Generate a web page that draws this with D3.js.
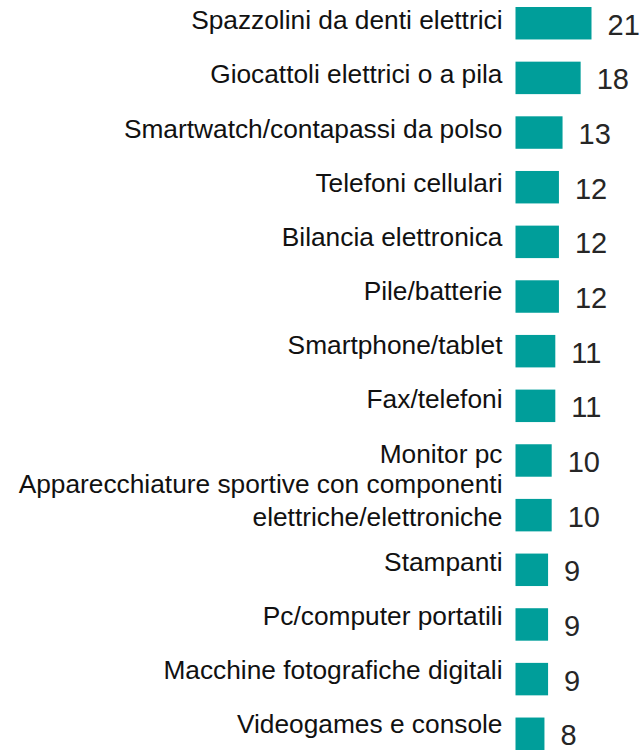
<!DOCTYPE html>
<html>
<head>
<meta charset="utf-8">
<script src="https://cdn.jsdelivr.net/npm/d3@7"></script>
<style>
  body { margin: 0; background: #fff; }
  text { font-family: "Liberation Sans", Arial, sans-serif; }
</style>
</head>
<body>
<div id="chart"></div>
<script>
// data
var categories = [
  "Spazzolini da denti elettrici",
  "Giocattoli elettrici o a pila",
  "Smartwatch/contapassi da polso",
  "Telefoni cellulari",
  "Bilancia elettronica",
  "Pile/batterie",
  "Smartphone/tablet",
  "Fax/telefoni",
  "Monitor pc",
  "Apparecchiature sportive con componenti\nelettriche/elettroniche",
  "Stampanti",
  "Pc/computer portatili",
  "Macchine fotografiche digitali",
  "Videogames e console"
];
var values = [21, 18, 13, 12, 12, 12, 11, 11, 10, 10, 9, 9, 9, 8];

var width = 643, height = 751;
var barColor = "#009e9a";

var svg = d3.select("#chart")
  .append("svg")
  .attr("width", width)
  .attr("height", height);

var rows = categories.map(function(c, i) { return {cat: c, value: values[i]}; });

// scales
var x = d3.scaleLinear()
  .domain([0, 21])
  .range([515.5, 591.5]);

var y = d3.scaleBand()
  .domain(categories)
  .range([7, 750])
  .paddingInner(0.406)
  .paddingOuter(0);

// label baselines sit a bit above the bar centres
var yLabel = d3.scalePoint()
  .domain(categories)
  .range([29.3, 733.3]);

// bars
svg.selectAll(".bar")
  .data(rows)
  .enter()
  .append("rect")
  .attr("class", "bar")
  .attr("x", x(0))
  .attr("y", function(d) { return y(d.cat); })
  .attr("width", function(d) { return x(d.value) - x(0); })
  .attr("height", y.bandwidth())
  .attr("fill", barColor);

// value labels
svg.selectAll(".val")
  .data(rows)
  .enter()
  .append("text")
  .attr("class", "val")
  .attr("x", function(d) { return x(d.value) + 16; })
  .attr("y", function(d) { return y(d.cat) + y.bandwidth() / 2 + 1; })
  .attr("dy", "0.36em")
  .attr("font-size", 29)
  .attr("fill", "#262626")
  .text(function(d) { return d.value; });

// category labels
var lineH = 33;
var labels = svg.selectAll(".lab")
  .data(rows)
  .enter()
  .append("text")
  .attr("class", "lab")
  .attr("text-anchor", "end")
  .attr("font-size", 26.3)
  .attr("fill", "#111");

labels.each(function(d) {
  var lines = d.cat.split("\n");
  var n = lines.length;
  var base = yLabel(d.cat);
  var shift = n > 1 ? -7 : 0;
  d3.select(this).selectAll("tspan")
    .data(lines)
    .enter()
    .append("tspan")
    .attr("x", x(0) - 13)
    .attr("y", function(l, i) { return base + (i - (n - 1) / 2) * lineH + shift; })
    .text(function(l) { return l; });
});
</script>
</body>
</html>
